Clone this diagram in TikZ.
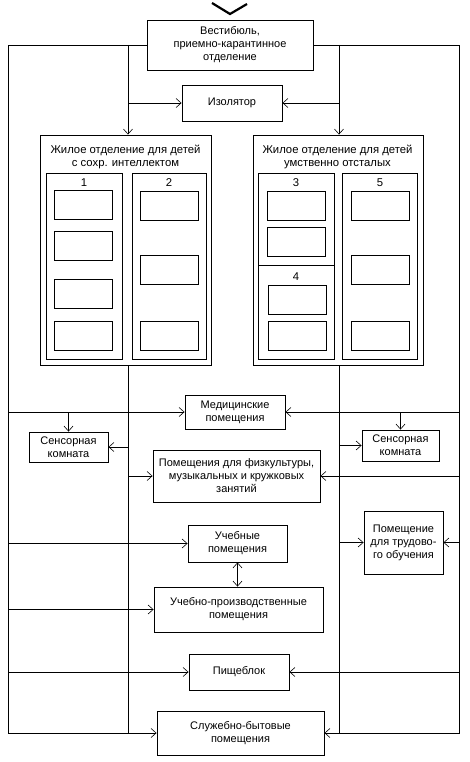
\documentclass[tikz,border=0pt]{standalone}
\usepackage{fontspec}
\setmainfont{Liberation Sans}
\usetikzlibrary{arrows.meta}

\tikzset{
  box/.style={draw, line width=0.9pt, align=center, inner sep=0.5pt, font=\fontsize{11}{13}\selectfont},
  wing/.style={draw, line width=0.9pt, inner sep=0pt},
  room/.style={draw, line width=0.9pt, minimum width=58pt, minimum height=29pt, inner sep=0pt},
  lbl/.style={inner sep=0pt, align=center, font=\fontsize{11.3}{13}\selectfont},
  link/.style={line width=0.6pt},
  arr/.style={link, -{Straight Barb[length=5pt,width=9pt]}},
  darr/.style={link, {Straight Barb[length=5pt,width=9pt]}-{Straight Barb[length=5pt,width=9pt]}},
}

\begin{document}
\begin{tikzpicture}[x=1pt,y=-1pt]
  \useasboundingbox (0,0) rectangle (469,762);

  % Entrance mark
  \draw[line width=2.2pt] (212,3) -- (230,14) -- (247,4);

  % Top boxes
  \node[box, minimum width=166pt, minimum height=50pt] (vest) at (230,45) {Вестибюль,\\приемно-карантинное\\отделение};
  \node[box, minimum width=100pt, minimum height=36pt] (izol) at (232,103) {Изолятор};

  % Left living wing
  \node[wing, minimum width=171pt, minimum height=230pt] (livL) at (125.5,250) {};
  \node[lbl] (titleL) at (125.5,156.5) {Жилое отделение для детей\\с сохр. интеллектом};
  \node[wing, minimum width=76pt, minimum height=186pt] (sec1) at (84,266) {};
  \node[wing, minimum width=74pt, minimum height=186pt] (sec2) at (169,266) {};
  \node[lbl] (n1) at (84,183) {1};
  \node[lbl] (n2) at (169,183) {2};
  \foreach \y [count=\i] in {205,246,293.5,335.5}
    \node[room] (r1-\i) at (83.5,\y) {};
  \foreach \y [count=\i] in {205.5,269.5,335.5}
    \node[room] (r2-\i) at (169,\y) {};

  % Right living wing
  \node[wing, minimum width=170pt, minimum height=230pt] (livR) at (338,250) {};
  \node[lbl] (titleR) at (337.5,156.5) {Жилое отделение для детей\\умственно отсталых};
  \node[wing, minimum width=76pt, minimum height=92pt] (sec3) at (296,219) {};
  \node[wing, minimum width=76pt, minimum height=94pt] (sec4) at (296,312) {};
  \node[wing, minimum width=75pt, minimum height=186pt] (sec5) at (379.5,266) {};
  \node[lbl] (n3) at (296,183) {3};
  \node[lbl] (n4) at (296,277) {4};
  \node[lbl] (n5) at (380,183) {5};
  \foreach \y [count=\i] in {205.5,241.5}
    \node[room] (r3-\i) at (296,\y) {};
  \foreach \y [count=\i] in {299.5,335.5}
    \node[room] (r4-\i) at (297.5,\y) {};
  \foreach \y [count=\i] in {205.5,269.5,335.5}
    \node[room] (r5-\i) at (380,\y) {};

  % Lower boxes
  \node[box, minimum width=100pt, minimum height=34pt] (med) at (235,412) {Медицинские\\помещения};
  \node[box, minimum width=79pt, minimum height=30pt] (sensL) at (68.5,447) {Сенсорная\\комната};
  \node[box, minimum width=77pt, minimum height=31pt] (sensR) at (400.5,445.5) {Сенсорная\\комната};
  \node[box, minimum width=167pt, minimum height=52pt] (phys) at (236.5,476) {Помещения для физкультуры,\\музыкальных и кружковых\\занятий};
  \node[box, minimum width=99pt, minimum height=37pt] (ucheb) at (237.5,543.5) {Учебные\\помещения};
  \node[box, minimum width=79pt, minimum height=63pt] (trud) at (403.5,542.5) {Помещение\\для трудово-\\го обучения};
  \node[box, minimum width=169pt, minimum height=45pt] (upp) at (238.5,609.5) {Учебно-производственные\\помещения};
  \node[box, minimum width=100pt, minimum height=36pt] (pish) at (239,672) {Пищеблок};
  \node[box, minimum width=167pt, minimum height=44pt] (sluzh) at (240.5,733) {Служебно-бытовые\\помещения};

  % Corridor lines
  \coordinate (LT) at (8,45);
  \coordinate (LB) at (8,733);
  \coordinate (RT) at (459,45);
  \coordinate (RB) at (459,733);
  \coordinate (ILT) at (128,45);
  \coordinate (ILB) at (128,733);
  \coordinate (IRT) at (339,45);
  \coordinate (IRB) at (339,733);

  \draw[arr] (vest.west) -- (LT) -- (LB) -- (sluzh.west);
  \draw[arr] (vest.east) -- (RT) -- (RB) -- (sluzh.east);
  \draw[arr] (ILT) -- (ILT |- livL.north);
  \draw[arr] (IRT) -- (IRT |- livR.north);
  \draw[arr] (ILT |- izol.west) -- (izol.west);
  \draw[arr] (IRT |- izol.east) -- (izol.east);
  \draw[link] (ILT |- livL.south) -- (ILB);
  \draw[link] (IRT |- livR.south) -- (IRB);

  % Left branches
  \draw[arr] (LT |- med.west) -- (med.west);
  \draw[arr] (sensL.north |- med.west) -- (sensL.north);
  \draw[arr] (ILT |- sensL.east) -- (sensL.east);
  \draw[arr] (ILT |- phys.west) -- (phys.west);
  \draw[arr] (LT |- ucheb.west) -- (ucheb.west);
  \draw[arr] (LT |- upp.west) -- (upp.west);
  \draw[arr] (LT |- pish.west) -- (pish.west);

  % Right branches
  \draw[arr] (RT |- med.east) -- (med.east);
  \draw[arr] (sensR.north |- med.east) -- (sensR.north);
  \draw[arr] (IRT |- sensR.west) -- (sensR.west);
  \draw[arr] (RT |- phys.east) -- (phys.east);
  \draw[arr] (IRT |- trud.west) -- (trud.west);
  \draw[arr] (RT |- trud.east) -- (trud.east);
  \draw[arr] (RT |- pish.east) -- (pish.east);

  % Study rooms link
  \draw[darr] (ucheb.south) -- (ucheb.south |- upp.north);
\end{tikzpicture}
\end{document}
